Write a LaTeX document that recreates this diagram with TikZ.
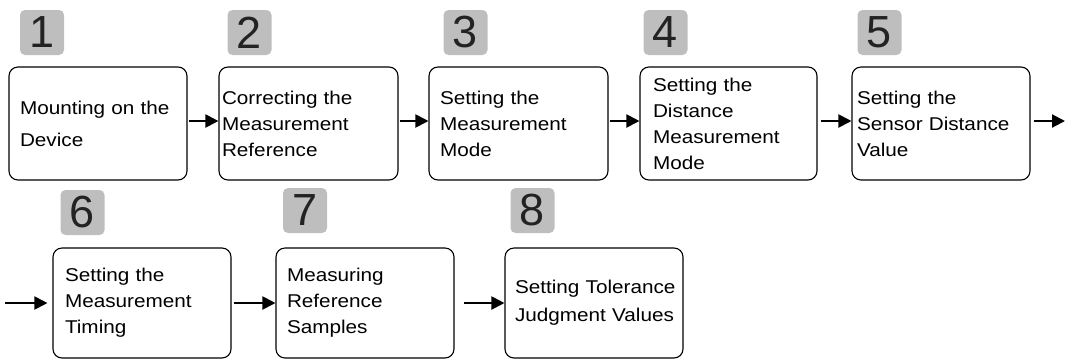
\documentclass[tikz,border=0pt]{standalone}
\usepackage{fontspec}
\setmainfont{Liberation Sans}[FakeStretch=1.12]
\newfontfamily\digitfont{Liberation Sans}
\usetikzlibrary{arrows.meta}
\hyphenpenalty=10000
\hfuzz=20pt
\hbadness=10000
\definecolor{badgegray}{RGB}{190,190,190}
\definecolor{digitgray}{RGB}{35,35,35}
\tikzset{
  stepbox/.style={draw, line width=1.1pt, rounded corners=9pt, align=left,
    minimum height=113pt, font=\fontsize{18.5}{26}\selectfont},
  badge/.style={fill=badgegray, rounded corners=5pt, minimum width=44pt,
    minimum height=45pt, inner sep=0pt, text=digitgray,
    font=\digitfont\fontsize{45}{45}\selectfont},
  flow/.style={-{Triangle[length=13pt,width=13pt]}, line width=2pt}
}
\begin{document}
\begin{tikzpicture}[x=1pt, y=-1pt]
    \useasboundingbox (0,0) rectangle (1065,360);

    % first row
    \node[stepbox, inner xsep=11pt, text width=156pt] (b1) at (98,123.5) {\mbox{Mounting on the}\\[6pt]Device};
    \node[stepbox, inner xsep=3pt, text width=173pt] (b2) at (308.5,123.5) {\mbox{Correcting the}\\Measurement\\Reference};
    \node[stepbox, inner xsep=11pt, text width=157pt] (b3) at (518.5,123.5) {\mbox{Setting the}\\Measurement\\Mode};
    \node[stepbox, inner xsep=13pt, text width=151pt] (b4) at (728.5,123.5) {\mbox{Setting the}\\Distance\\Measurement\\Mode};
    \node[stepbox, inner xsep=5pt, text width=168pt] (b5) at (941,123.5) {\mbox{Setting the}\\\mbox{Sensor Distance}\\Value};

    % second row
    \node[stepbox, minimum height=110pt, inner xsep=12pt, text width=154pt] (b6) at (142,303) {\mbox{Setting the}\\Measurement\\Timing};
    \node[stepbox, minimum height=110pt, inner xsep=11pt, text width=156pt] (b7) at (365,303) {Measuring\\Reference\\Samples};
    \node[stepbox, minimum height=110pt, inner xsep=10pt, text width=158pt] (b8) at (594,303) {\mbox{Setting Tolerance}\\[2pt]\mbox{Judgment Values}};

    % step numbers
    \node[badge] (n1) at (42,32.5) {1};
    \node[badge] (n2) at (249.5,32.5) {2};
    \node[badge] (n3) at (465.5,32.5) {3};
    \node[badge] (n4) at (665.5,32.5) {4};
    \node[badge] (n5) at (879.5,32.5) {5};
    \node[badge] (n6) at (82.5,212.5) {6};
    \node[badge] (n7) at (305,210.5) {7};
    \node[badge] (n8) at (532.5,210.5) {8};

    % connectors
    \coordinate (out5) at (1065,121);
    \coordinate (in6) at (5,303);
    \draw[flow, shorten <=1pt] ([yshift=2.5pt]b1.east) -- ([yshift=2.5pt]b2.west);
    \draw[flow, shorten <=1pt] ([yshift=2.5pt]b2.east) -- ([yshift=2.5pt]b3.west);
    \draw[flow, shorten <=1pt] ([yshift=2.5pt]b3.east) -- ([yshift=2.5pt]b4.west);
    \draw[flow, shorten <=3pt] ([yshift=2.5pt]b4.east) -- ([yshift=2.5pt]b5.west);
    \draw[flow, shorten <=3pt] (b5.east |- out5) -- (out5);
    \draw[flow, shorten >=5pt] (in6) -- (b6.west |- in6);
    \draw[flow, shorten <=2pt] (b6.east) -- (b7.west);
    \draw[flow, shorten <=9pt] (b7.east) -- (b8.west);
\end{tikzpicture}
\end{document}
